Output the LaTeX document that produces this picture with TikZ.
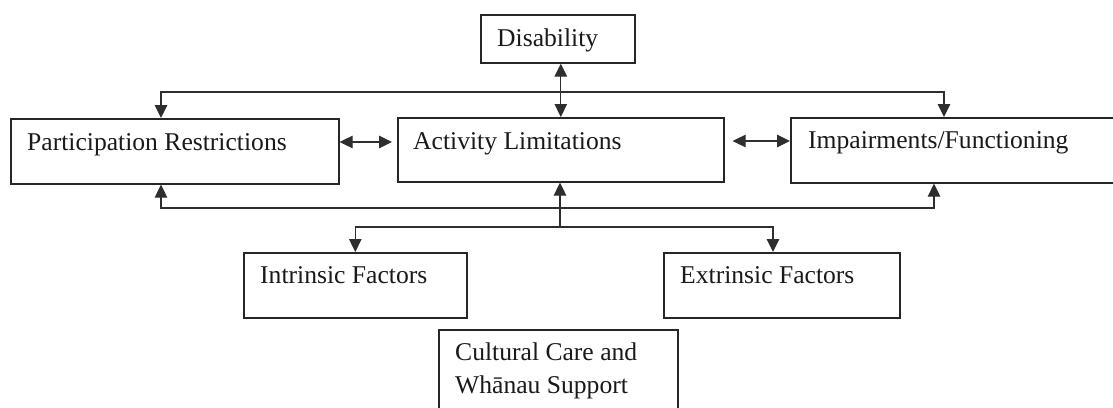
\documentclass[tikz,border=0pt]{standalone}
\usepackage{fontspec}
\setmainfont{Liberation Serif}
\usetikzlibrary{arrows.meta,calc}

\begin{document}
\begin{tikzpicture}[x=1pt,y=-1pt,
  box/.style={draw=black!85, line width=1.6pt, inner sep=0pt, anchor=north west},
  lbl/.style={anchor=base west, inner sep=0pt, text=black!90,
    font=\fontsize{25.6}{33}\selectfont},
  link/.style={draw=black!82, line width=1.1pt, -{Triangle[length=13pt,width=12.5pt]}},
  dlink/.style={draw=black!82, line width=1.1pt,
    {Triangle[length=13pt,width=12.5pt]}-{Triangle[length=13pt,width=12.5pt]}}]

  \useasboundingbox (0,0) rectangle (1113,407);

  % boxes
  \node[box, minimum width=154pt, minimum height=48pt] (dis)  at (480,14)  {};
  \node[box, minimum width=328pt, minimum height=65pt] (pr)   at (10,118)  {};
  \node[box, minimum width=326pt, minimum height=64pt] (al)   at (397,117) {};
  \node[box, minimum width=360pt, minimum height=65pt] (imp)  at (790,117) {};
  \node[box, minimum width=223pt, minimum height=65pt] (intr) at (243,252) {};
  \node[box, minimum width=236pt, minimum height=65pt] (ext)  at (663,252) {};
  \node[box, minimum width=239pt, minimum height=95pt] (cul)  at (438,329) {};

  % labels, set near the top left corner of each box
  \node[lbl] (disT)  at ($(dis.north west)+(17,32)$)  {Disability};
  \node[lbl] (prT)   at ($(pr.north west)+(17,32)$)   {Participation Restrictions};
  \node[lbl] (alT)   at ($(al.north west)+(16,32)$)   {Activity Limitations};
  \node[lbl] (impT)  at ($(imp.north west)+(18,31)$)  {Impairments/Functioning};
  \node[lbl] (intrT) at ($(intr.north west)+(17,31)$) {Intrinsic Factors};
  \node[lbl] (extT)  at ($(ext.north west)+(17,31)$)  {Extrinsic Factors};
  \node[lbl] (culT1) at ($(cul.north west)+(17,31)$)  {Cultural Care and};
  \node[lbl] (culT2) at ($(cul.north west)+(17,64)$)  {Whānau Support};

  % attachment points on the box edges
  \coordinate (prN)  at ($(pr.north west)+(151,0)$);
  \coordinate (prS)  at ($(pr.south west)+(151,0)$);
  \coordinate (impN) at ($(imp.north west)+(154,0)$);
  \coordinate (impS) at ($(imp.south west)+(144,0)$);
  \coordinate (extN) at ($(ext.north west)+(110,0)$);

  % bus lines and branch point
  \coordinate (busTop) at (560,92);
  \coordinate (busBot) at (560,208);
  \coordinate (split)  at (560,227);

  % Disability <-> Activity Limitations
  \draw[dlink] (al.north |- dis.south) -- (al.north);

  % side links
  \coordinate (prE) at ($(pr.north east)+(0,24)$);
  \coordinate (alE) at ($(al.north east)+(8,24)$);
  \draw[dlink] (prE) -- ($(prE -| al.west)+(-5,0)$);
  \draw[dlink] (alE) -- (alE -| imp.west);

  % top bus feeding both outer boxes
  \draw[link] (busTop) -| (prN);
  \draw[link] (busTop) -| (impN);

  % bottom bus feeding both outer boxes
  \draw[link] (busBot) -| (prS);
  \draw[link] (busBot) -| (impS);

  % factors into Activity Limitations
  \draw[link] (split) -- (split |- al.south);
  \draw[link] (split) -| (intr.north);
  \draw[link] (split) -| (extN);
\end{tikzpicture}
\end{document}
